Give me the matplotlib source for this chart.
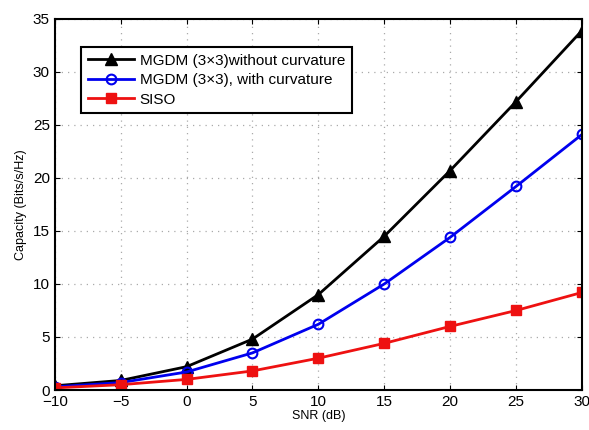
import matplotlib
matplotlib.use("Agg")
import matplotlib.pyplot as plt

plt.rcParams.update({
    "font.family": ["Liberation Sans", "DejaVu Sans"],
    "font.size": 9,
})

snr = [-10, -5, 0, 5, 10, 15, 20, 25, 30]
mgdm_no_curv = [0.4, 0.9, 2.2, 4.8, 9.0, 14.5, 20.7, 27.2, 33.9]
mgdm_curv = [0.3, 0.7, 1.7, 3.5, 6.2, 10.0, 14.4, 19.2, 24.1]
siso = [0.2, 0.5, 1.0, 1.8, 3.0, 4.4, 6.0, 7.5, 9.2]

fig = plt.figure(figsize=(5.89, 4.30), dpi=100)
ax = fig.add_axes([0.093, 0.093, 0.895, 0.863])

ax.plot(snr, mgdm_no_curv, color="black", marker="^", markersize=8,
        linewidth=2, label="MGDM (3\u00d73)without curvature")
ax.plot(snr, mgdm_curv, color="#0000ee", marker="o", markersize=7,
        markerfacecolor="none", markeredgewidth=1.5,
        linewidth=2, label="MGDM (3\u00d73), with curvature")
ax.plot(snr, siso, color="#ee1111", marker="s", markersize=7,
        linewidth=2, label="SISO")

ax.set_xlim(-10, 30)
ax.set_ylim(0, 35)
ax.set_xticks(range(-10, 31, 5))
ax.set_yticks(range(0, 36, 5))
ax.grid(True, linestyle=(0, (1, 4)), color="#aaaaaa", linewidth=0.9)
ax.tick_params(direction="in", labelsize=11, top=True, right=True)
for s in ax.spines.values():
    s.set_linewidth(1.5)

ax.set_xlabel("SNR (dB)", fontsize=9, labelpad=1)
ax.set_ylabel("Capacity (Bits/s/Hz)", fontsize=9)

leg = ax.legend(loc="upper left", bbox_to_anchor=(0.035, 0.945), fancybox=False,
                edgecolor="black", framealpha=1, fontsize=11,
                handlelength=3, borderpad=0.45, labelspacing=0.35,
                handletextpad=0.4)
leg.get_frame().set_linewidth(1.5)

fig.savefig("out.png", dpi=100)
